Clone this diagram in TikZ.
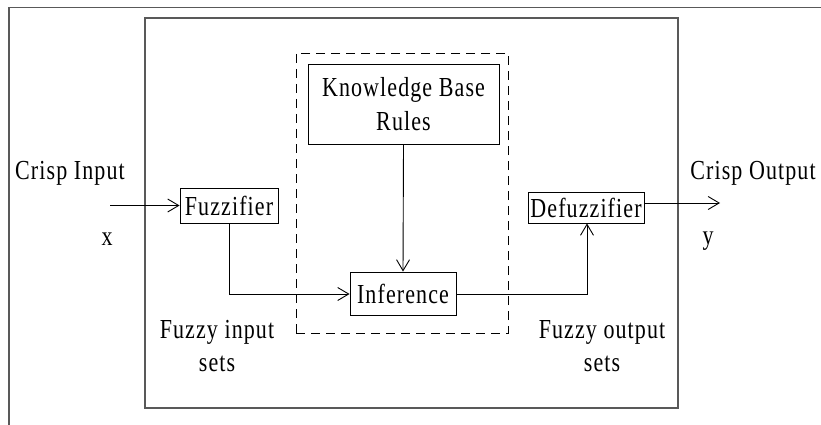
\documentclass[tikz,border=0pt]{standalone}
\usepackage{fontspec}
\setmainfont{Liberation Serif}[FakeStretch=0.8,LetterSpace=4]
\usetikzlibrary{arrows.meta}
\begin{document}
\begin{tikzpicture}[x=1pt,y=-1pt,
  frame/.style={draw=black!65,line width=1.3pt},
  blk/.style={draw=black,line width=0.9pt,inner sep=0pt,font=\fontsize{27.5}{30}\selectfont},
  lbl/.style={inner sep=0pt,font=\fontsize{27.5}{30}\selectfont},
  conn/.style={draw=black,line width=0.9pt},
  arr/.style={conn,-{Straight Barb[length=11pt,width=13pt,line width=0.9pt]}}]
\useasboundingbox (0,0) rectangle (821,425);
% outer frame lines
\coordinate (tl) at (9,7.5);
\coordinate (tr) at (821,7.5);
\coordinate (bl) at (9,425);
\draw[frame] (tr) -- (tl) -- (bl);
% main box
\node[frame,inner sep=0pt,minimum width=533pt,minimum height=390pt] (main) at (411.5,213) {};
% dashed box
\node[draw=black,line width=0.9pt,dash pattern=on 9pt off 6pt,inner sep=0pt,minimum width=212pt,minimum height=280pt] (dash) at (402,193) {};
% blocks
\node[blk,minimum width=191pt,minimum height=80pt,align=center] (kb) at (403.5,104) {Knowledge Base\\[4pt]Rules};
\node[blk,minimum width=98pt,minimum height=35pt] (fuz) at (229,205.5) {Fuzzifier};
\node[blk,minimum width=106pt,minimum height=43pt] (inf) at (403,293.5) {Inference};
\node[blk,minimum width=116pt,minimum height=31pt] (def) at (586,207.5) {Defuzzifier};
% labels
\node[lbl] (cin) at (70,173) {Crisp Input};
\node[lbl] (xl) at (107,239) {x};
\node[lbl] (cout) at (753,173) {Crisp Output};
\node[lbl] (yl) at (708,241) {y};
\node[lbl,align=center] (fin) at (217,346) {Fuzzy input\\[3pt]sets};
\node[lbl,align=center] (fout) at (602,346) {Fuzzy output\\[3pt]sets};
% connectors
\coordinate (in) at (110,205.5);
\coordinate (out) at (720,203);
\coordinate (c1) at (229,294);
\coordinate (c2) at (587,294);
\draw[arr] (in) -- (fuz.west);
\draw[arr] (fuz.south) -- (c1) -- (inf.west |- c1);
\draw[arr] (kb.south) -- (inf.north);
\draw[arr] (inf.east |- c2) -- (c2) -- (def.south -| c2);
\draw[arr] (def.east |- out) -- (out);
\end{tikzpicture}
\end{document}
